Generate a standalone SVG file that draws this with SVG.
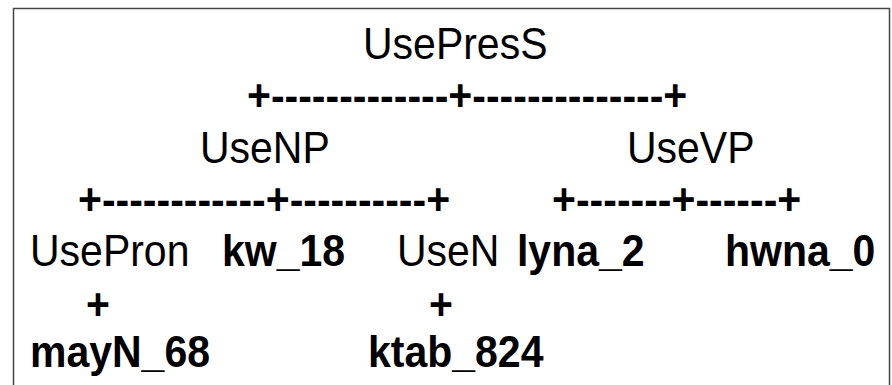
<svg xmlns="http://www.w3.org/2000/svg" width="892" height="385" viewBox="0 0 892 385">
<style>
text{font-family:"Liberation Sans",Arial,sans-serif;font-size:41px;fill:#000}
.b{font-weight:bold}
</style>
<rect x="0" y="0" width="892" height="385" fill="#fff"/>
<rect x="13.5" y="8.5" width="876" height="400" fill="none" stroke="#444" stroke-width="1.5"/>
<g id="connectors">
<g transform="translate(0,111) scale(1,1.08)"><text class="b" x="247" y="0">+-------------+--------------+</text></g>
<g transform="translate(0,215) scale(1,1.08)"><text class="b" x="78" y="0">+------------+----------+</text></g>
<g transform="translate(0,215) scale(1,1.08)"><text class="b" x="552" y="0">+-------+------+</text></g>
<g transform="translate(0,320) scale(1,1.08)"><text class="b" x="86" y="0">+</text></g>
<g transform="translate(0,320) scale(1,1.08)"><text class="b" x="429" y="0">+</text></g>
</g>
<g id="UsePresS" transform="translate(0,59) scale(1,1.08)"><text x="363" y="0">UsePresS</text></g>
<g id="UseNP" transform="translate(0,163) scale(1,1.08)"><text x="200" y="0">UseNP</text></g>
<g id="UseVP" transform="translate(0,163) scale(1,1.08)"><text x="627" y="0">UseVP</text></g>
<g id="UsePron" transform="translate(0,266) scale(1,1.08)"><text x="30" y="0">UsePron</text></g>
<g id="kw_18" transform="translate(0,266) scale(1,1.08)"><text class="b" x="222" y="0">kw_18</text></g>
<g id="UseN" transform="translate(0,266) scale(1,1.08)"><text x="397" y="0">UseN</text></g>
<g id="lyna_2" transform="translate(0,266) scale(1,1.08)"><text class="b" x="517" y="0">lyna_2</text></g>
<g id="hwna_0" transform="translate(0,266) scale(1,1.08)"><text class="b" x="725" y="0">hwna_0</text></g>
<g id="mayN_68" transform="translate(0,367) scale(1,1.08)"><text class="b" x="30" y="0">mayN_68</text></g>
<g id="ktab_824" transform="translate(0,367) scale(1,1.08)"><text class="b" x="368" y="0">ktab_824</text></g>
</svg>
